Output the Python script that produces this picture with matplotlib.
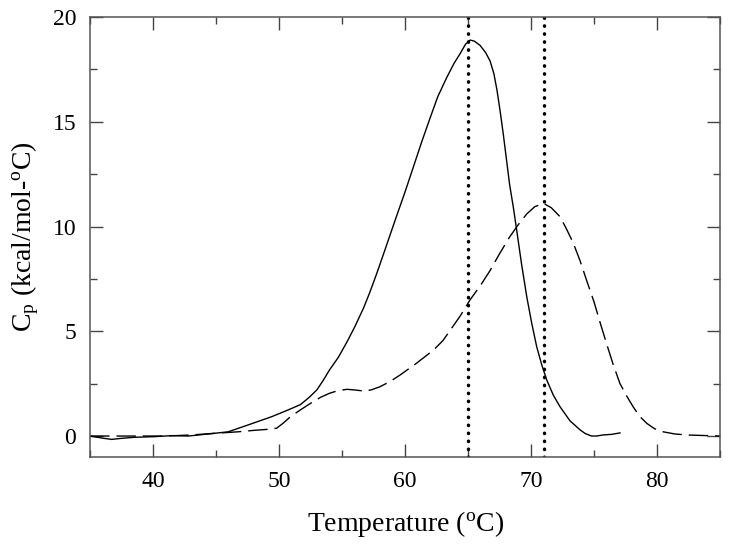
#!/usr/bin/env python3

import matplotlib
matplotlib.use('Agg')
import matplotlib.pyplot as plt
from matplotlib.ticker import MultipleLocator

plt.rcParams['font.family'] = ['Liberation Serif', 'DejaVu Serif']
plt.rcParams['mathtext.default'] = 'regular'

# solid curve (first sample)
t_solid = [35, 36, 36.7, 37.5, 38.5, 40.1, 41.5, 42.8, 44.4, 45.95, 47.5, 49.4, 50.7,
           51.7, 52.4, 53.0, 53.5, 54.0, 54.7, 55.4, 56.0, 56.7, 57.2, 57.75, 58.3,
           59.3, 60.0, 60.66, 61.3, 62.0, 62.6, 63.3, 63.9, 64.37, 64.8, 65.16, 65.5,
           65.95, 66.4, 66.75, 67.05, 67.3, 67.55, 67.8, 68.05, 68.3, 68.6, 68.86,
           69.25, 69.66, 70.05, 70.45, 70.85, 71.25, 71.77, 72.3, 73.1, 73.9, 74.3,
           74.8, 75.2, 75.7, 76.4, 77.06]
cp_solid = [0, -0.1, -0.16, -0.11, -0.06, -0.03, 0.02, 0, 0.1, 0.2, 0.52, 0.92, 1.24,
            1.5, 1.85, 2.2, 2.65, 3.15, 3.75, 4.5, 5.2, 6.1, 6.85, 7.75, 8.7,
            10.45, 11.65, 12.84, 14.0, 15.2, 16.2, 17.1, 17.8, 18.25, 18.7, 18.9, 18.85,
            18.65, 18.3, 17.9, 17.3, 16.5, 15.5, 14.4, 13.2, 12.0, 10.9, 9.83,
            8.2, 6.65, 5.4, 4.26, 3.4, 2.67, 1.95, 1.4, 0.72, 0.29, 0.12,
            0.0, 0.0, 0.05, 0.08, 0.15]

# dashed curve (second sample)
t_dash = [35, 38, 41, 43, 44.9, 46.7, 48.0, 49.1, 49.8, 50.3, 50.9, 51.7, 52.5, 53.3,
          54.0, 54.7, 55.4, 56.0, 56.7, 57.3, 58.0, 58.8, 59.6, 60.9, 62.25, 63.0,
          63.6, 64.4, 65.16, 66.0, 66.75, 67.5, 68.3, 69.0, 69.66, 70.3, 71.0, 71.6,
          72.3, 72.8, 73.36, 73.9, 74.4, 75.0, 75.5, 76.0, 76.5, 77.06, 77.6, 78.1,
          78.6, 79.2, 79.8, 80.5, 81.4, 82.4, 85]
cp_dash = [0, 0, 0, 0.05, 0.13, 0.2, 0.27, 0.32, 0.37, 0.6, 0.92, 1.25, 1.56, 1.85,
           2.04, 2.17, 2.23, 2.2, 2.15, 2.2, 2.35, 2.6, 2.91, 3.47, 4.1, 4.55,
           5.06, 5.75, 6.5, 7.2, 7.9, 8.7, 9.5, 10.1, 10.6, 10.95, 11.1, 10.9,
           10.47, 9.9, 9.2, 8.35, 7.45, 6.4, 5.38, 4.4, 3.45, 2.5, 1.9, 1.4,
           0.95, 0.6, 0.35, 0.2, 0.1, 0.05, 0]

# transition temperatures
tm = [65, 71]

fig = plt.figure(figsize=(7.29, 5.49), dpi=100)
ax = fig.add_axes([0.1235, 0.1676, 0.8642, 0.8014])

ax.plot(t_solid, cp_solid, c='k', lw=1.0)
ax.plot(t_dash, cp_dash, c='k', lw=1.0, dashes=(14, 5))
for t in tm:
    ax.axvline(t, c='k', lw=2.5, linestyle=(0, (0.1, 2.2)), dash_capstyle='round')

ax.set_xlim(35, 85)
ax.set_ylim(-1, 20)
ax.xaxis.set_major_locator(MultipleLocator(10))
ax.xaxis.set_minor_locator(MultipleLocator(5))
ax.yaxis.set_major_locator(MultipleLocator(5))
ax.yaxis.set_minor_locator(MultipleLocator(2.5))
ax.tick_params(which='both', direction='in', top=True, right=True,
               color='#444444', width=1.0, labelsize=17)
ax.tick_params(which='major', length=9.5, pad=10)
ax.tick_params(which='minor', length=5)
for s in ax.spines.values():
    s.set_color('#555555')
    s.set_linewidth(1.1)

ax.set_xlabel('Temperature ($^{o}$C)', fontsize=20, labelpad=12)
ax.set_ylabel('C$_{p}$ (kcal/mol-$^{o}$C)', fontsize=20, labelpad=8)

fig.savefig('out.png')
